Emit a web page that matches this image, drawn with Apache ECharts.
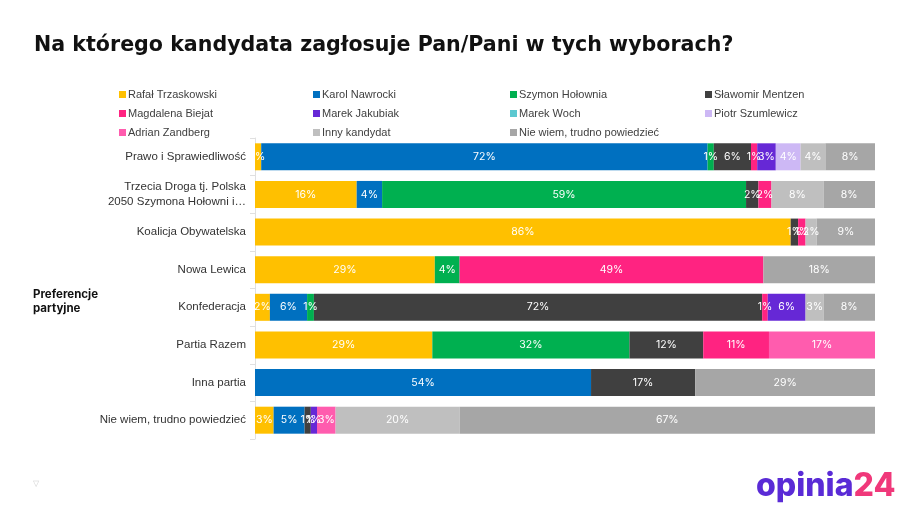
<!DOCTYPE html>
<html>
<head>
<meta charset="utf-8">
<script src="https://cdn.jsdelivr.net/npm/echarts@6/dist/echarts.min.js"></script>
<style>
html,body{margin:0;padding:0;background:#fff;}
#chart{width:915px;height:514px;}
</style>
</head>
<body>
<div id="chart"></div>
<script>
const categories = [
  "Prawo i Sprawiedliwość",
  "Trzecia Droga tj. Polska\n2050 Szymona Hołowni i…",
  "Koalicja Obywatelska",
  "Nowa Lewica",
  "Konfederacja",
  "Partia Razem",
  "Inna partia",
  "Nie wiem, trudno powiedzieć"
];
const seriesNames = [
  "Rafał Trzaskowski", "Karol Nawrocki", "Szymon Hołownia", "Sławomir Mentzen",
  "Magdalena Biejat", "Marek Jakubiak", "Marek Woch", "Piotr Szumlewicz",
  "Adrian Zandberg", "Inny kandydat", "Nie wiem, trudno powiedzieć"
];
const seriesColors = [
  "#FFC000", "#0070C0", "#00B050", "#404040",
  "#FF2381", "#6628D6", "#5CC8D0", "#CDB8F5",
  "#FF5CAE", "#BFBFBF", "#A6A6A6"
];
// values per candidate, in category order (percent)
const trzaskowski = [1, 16.4, 86.4, 29, 2.4, 28.6, 0, 3];
const nawrocki    = [72, 4.1, 0, 0, 6, 0, 54.2, 5];
const holownia    = [1, 58.7, 0, 4, 1.1, 31.8, 0, 0];
const mentzen     = [6, 2, 1.2, 0, 72.3, 11.9, 16.8, 1];
const biejat      = [1, 2.1, 1.2, 49, 0.9, 10.6, 0, 0];
const jakubiak    = [3, 0, 0, 0, 6.1, 0, 0, 1];
const woch        = [0, 0, 0, 0, 0, 0, 0, 0];
const szumlewicz  = [4, 0, 0, 0, 0, 0, 0, 0];
const zandberg    = [0, 0, 0, 0, 0, 17.1, 0, 3];
const innyKandydat= [4, 8.4, 1.8, 0, 2.9, 0, 0, 20];
const nieWiem     = [8, 8.3, 9.4, 18, 8.3, 0, 29, 67];
const seriesValues = [trzaskowski, nawrocki, holownia, mentzen, biejat, jakubiak,
  woch, szumlewicz, zandberg, innyKandydat, nieWiem];

const legendColumns = [
  [0, 4, 8], [1, 5, 9], [2, 6, 10], [3, 7]
];
const legendLefts = [114, 308, 505, 700];

const chart = echarts.init(document.getElementById('chart'), null, {renderer: 'canvas'});

const series = seriesNames.map((name, i) => ({
  name: name,
  type: 'bar',
  stack: 'total',
  barWidth: 27,
  itemStyle: {color: seriesColors[i]},
  label: {
    show: true,
    position: 'inside',
    color: '#fff',
    fontFamily: 'Inter',
    fontSize: 10.5,
    formatter: p => p.value > 0 ? Math.round(p.value) + '%' : ''
  },
  emphasis: {disabled: true},
  data: seriesValues[i].map(v => v === 0 ? null : v)
}));

const legends = legendColumns.map((col, k) => ({
  orient: 'vertical',
  left: legendLefts[k],
  top: 84,
  itemWidth: 7,
  itemHeight: 7,
  itemGap: 8,
  icon: 'rect',
  selectedMode: false,
  textStyle: {fontFamily: 'Liberation Sans', fontSize: 11, color: '#404040', padding: [0, 0, 0, -3]},
  data: col.map(i => seriesNames[i])
}));

chart.setOption({
  animation: false,
  backgroundColor: '#fff',
  title: {
    text: 'Na którego kandydata zagłosuje Pan/Pani w tych wyborach?',
    left: 29,
    top: 30,
    textStyle: {fontFamily: 'DejaVu Sans', fontWeight: 'bold', fontSize: 20.6, color: '#111'}
  },
  legend: legends,
  grid: {left: 255, right: 40, top: 138, bottom: 75, containLabel: false},
  xAxis: {type: 'value', min: 0, max: 100, show: false},
  yAxis: {
    type: 'category',
    inverse: true,
    data: categories,
    axisLine: {show: true, lineStyle: {color: '#e0e0e0'}},
    axisTick: {show: true, lineStyle: {color: '#e0e0e0'}},
    axisLabel: {fontFamily: 'Liberation Sans', fontSize: 11.5, color: '#333', margin: 9, lineHeight: 15}
  },
  graphic: [
    {type: 'text', left: 33, top: 288, style: {text: 'Preferencje\npartyjne', fontFamily: 'Inter', fontWeight: 700, fontSize: 11.5, lineHeight: 14, fill: '#111'}},
    {type: 'text', left: 756, top: 470, style: {
      rich: {a: {fontFamily: 'Inter', fontWeight: 800, fontSize: 32, fill: '#5A2BD6'}, b: {fontFamily: 'Inter', fontWeight: 800, fontSize: 32, fill: '#F0387A'}},
      text: '{a|opinia}{b|24}'
    }},
    {type: 'text', left: 33, top: 480, style: {text: '▽', fontSize: 8, fill: '#d0d0d0'}}
  ],
  series: series
});
</script>
</body>
</html>
